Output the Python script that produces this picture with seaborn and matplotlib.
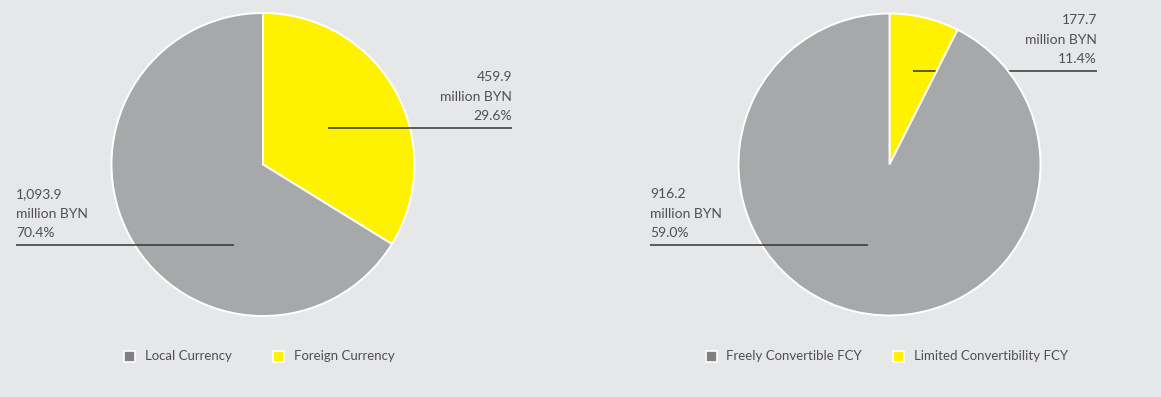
import matplotlib
matplotlib.use("Agg")
import matplotlib.pyplot as plt
import matplotlib.transforms as mtransforms
from matplotlib.patches import Rectangle
import seaborn as sns

# left pie: currency structure
left_names = ["Local Currency", "Foreign Currency"]
left_amounts = ["1,093.9", "459.9"]
left_pcts = ["70.4%", "29.6%"]
left_share = [66.2, 33.8]          # slice sizes as drawn in the picture

# right pie: foreign currency convertibility
right_names = ["Freely Convertible FCY", "Limited Convertibility FCY"]
right_amounts = ["916.2", "177.7"]
right_pcts = ["59.0%", "11.4%"]
right_share = [92.55, 7.45]

unit = "million BYN"

bg = "#e6e7e8"
pie_gray = "#a7a8aa"
legend_gray = "#808083"
yellow = "#fff200"
txt = "#505052"
line_c = "#333333"

sns.set_theme(style="white")
plt.rcParams["font.family"] = ["Lato", "DejaVu Sans"]

W, H = 1161, 397
fig = plt.figure(figsize=(W / 100, H / 100), dpi=100)
fig.patch.set_facecolor(bg)

# pixel coordinates with y going down
px = mtransforms.Affine2D().scale(1 / W, -1 / H).translate(0, 1) + fig.transFigure


def draw_pie(cx, cy, r, share, gray_z):
    ax = fig.add_axes([(cx - r) / W, (H - cy - r) / H, 2 * r / W, 2 * r / H])
    ax.set_facecolor("none")
    wedges, _ = ax.pie(share[::-1], colors=[yellow, pie_gray], startangle=90,
                       counterclock=False,
                       wedgeprops=dict(edgecolor="white", linewidth=1.4))
    ax.set_xlim(-1.0, 1.0)
    ax.set_ylim(-1.0, 1.0)
    ax.set_axis_off()
    wedges[0].set_zorder(1)
    wedges[1].set_zorder(gray_z)
    return ax


def callout(ax, x0, x1, y, lines, ha, z=4):
    ax.plot([x0, x1], [y, y], color=line_c, lw=1.1, transform=px,
            clip_on=False, zorder=z, solid_capstyle="butt")
    tx = x0 if ha == "left" else x1
    for i, s in enumerate(lines[::-1]):
        ax.text(tx, y - 7.5 - 19.3 * i, s, ha=ha, va="baseline", fontsize=10,
                color=txt, transform=px, zorder=5)


def legend(items):
    for (mx, tx, color, label) in items:
        fig.patches.append(Rectangle((mx - 5.5, 350.5), 11, 11, transform=px,
                                     facecolor=color, edgecolor="white", lw=1.2))
        fig.text(tx, 356.5, label, ha="left", va="center", fontsize=9.5,
                 color=txt, transform=px)


axl = draw_pie(263, 164.5, 151.5, left_share, 1)
callout(axl, 328, 512, 127.5, [left_amounts[1], unit, left_pcts[1]], "right")
callout(axl, 16, 234, 244.5, [left_amounts[0], unit, left_pcts[0]], "left")

axr = draw_pie(889.5, 164.5, 151, right_share, 3)
callout(axr, 913, 1097, 70.5, [right_amounts[1], unit, right_pcts[1]], "right", z=2)
callout(axr, 650, 868, 244.5, [right_amounts[0], unit, right_pcts[0]], "left")

legend([(129, 145, legend_gray, left_names[0]), (278.5, 294, yellow, left_names[1]),
        (711, 726.5, legend_gray, right_names[0]), (898, 914, yellow, right_names[1])])

fig.savefig("out.png", dpi=100, facecolor=bg)
